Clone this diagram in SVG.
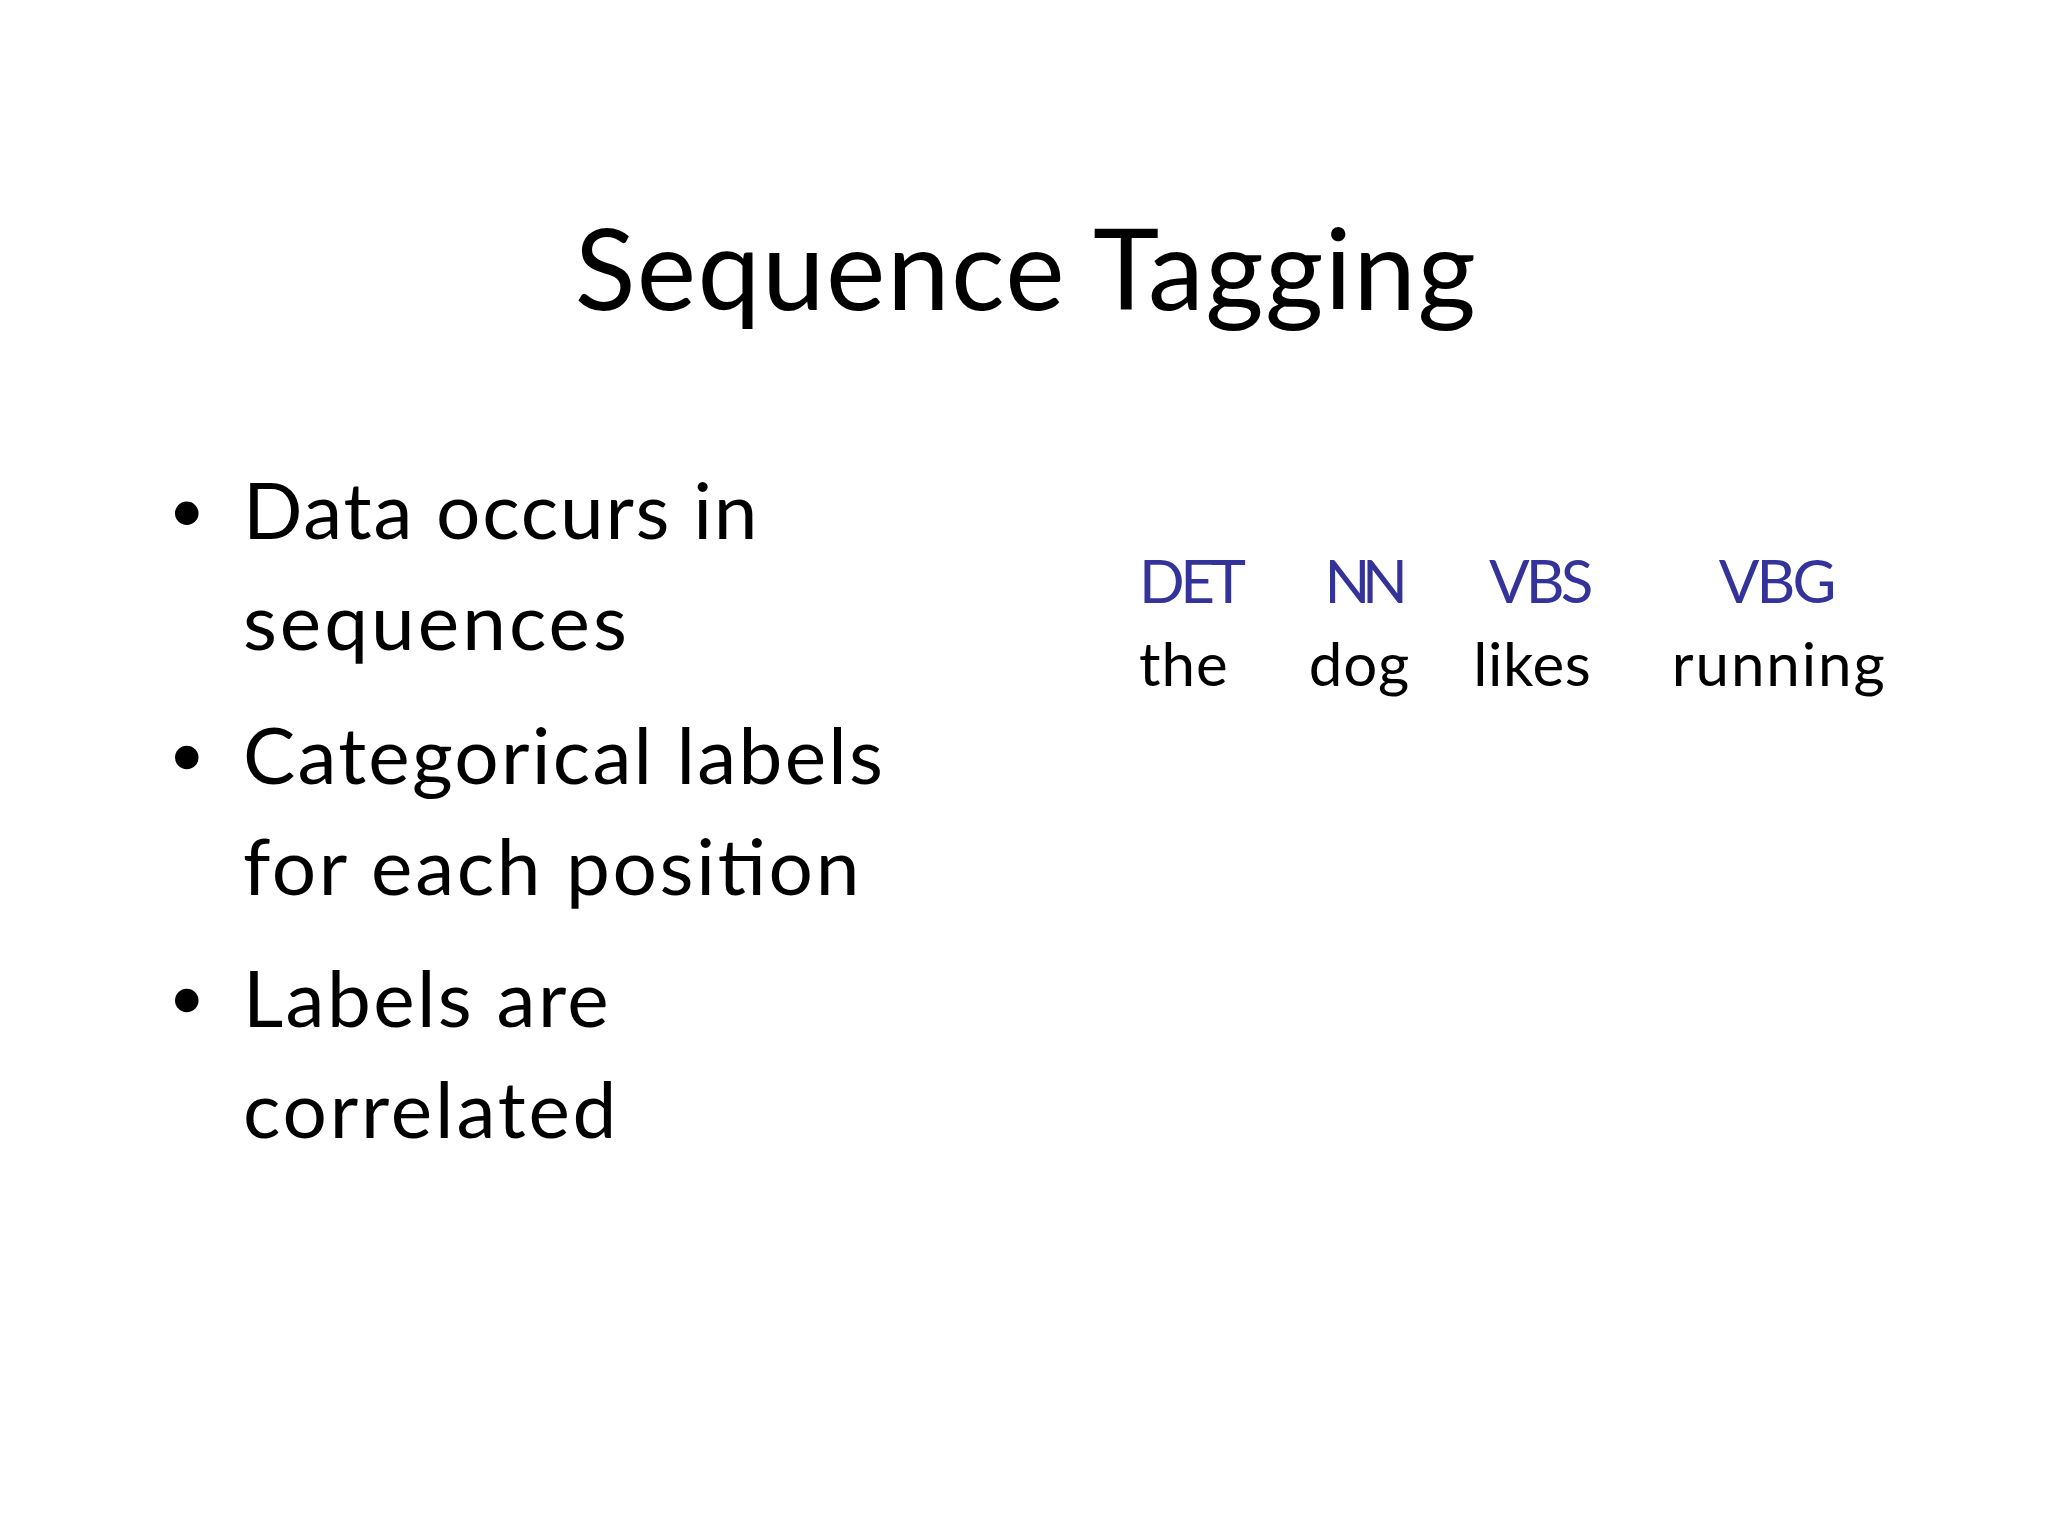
<svg xmlns="http://www.w3.org/2000/svg" width="2048" height="1536" viewBox="0 0 2048 1536">
<style>
text{font-family:Lato,"Open Sans",sans-serif;fill:#000}
.b{font-size:60px}
.t{font-size:46px}
.tag{fill:#333399}
</style>
<rect width="2048" height="1536" fill="#fff"/>
<g transform="scale(1.3061)">
<g id="title"><text x="785" y="237" font-size="86" text-anchor="middle" textLength="690">Sequence Tagging</text></g>
<g id="bullets">
<circle cx="143" cy="393" r="9"/><circle cx="143" cy="580" r="9"/><circle cx="143" cy="766" r="9"/>
<text class="b" x="186" y="413" textLength="394">Data occurs in</text>
<text class="b" x="186" y="498" textLength="294">sequences</text>
<text class="b" x="186" y="600" textLength="490">Categorical labels</text>
<text class="b" x="186" y="685" textLength="472">for each position</text>
<text class="b" x="186" y="786" textLength="280">Labels are</text>
<text class="b" x="186" y="871" textLength="286">correlated</text>
</g>
<g id="tags">
<text class="t tag" x="872" y="462" textLength="82">DET</text>
<text class="t tag" x="1014" y="462" textLength="64">NN</text>
<text class="t tag" x="1140" y="462" textLength="80">VBS</text>
<text class="t tag" x="1316" y="462" textLength="90">VBG</text>
<text class="t" x="872" y="525" textLength="68">the</text>
<text class="t" x="1002" y="525" textLength="77">dog</text>
<text class="t" x="1128" y="525" textLength="90">likes</text>
<text class="t" x="1280" y="525" textLength="163">running</text>
</g>
</g>
</svg>
